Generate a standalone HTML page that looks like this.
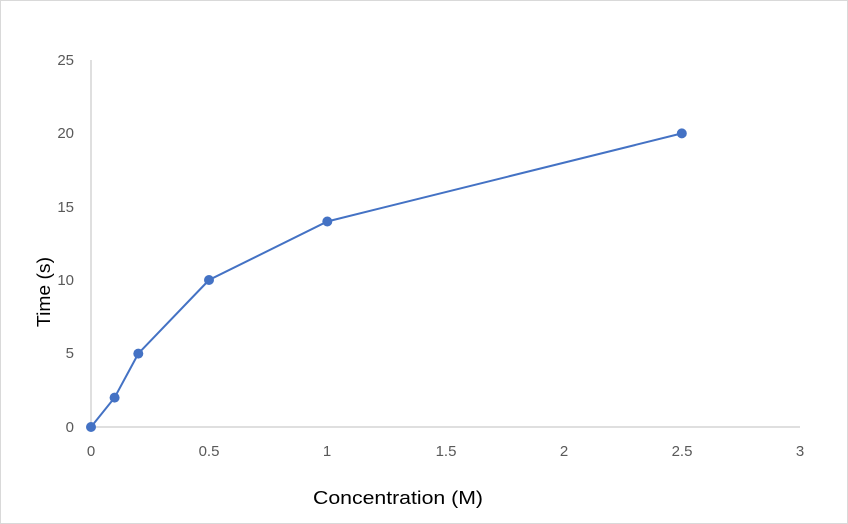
<!DOCTYPE html>
<html><head><style>
body{margin:0;background:#fff}
svg{display:block}
text{font-family:"Liberation Sans",sans-serif}
</style></head><body>
<svg width="848" height="524" viewBox="0 0 848 524" xmlns="http://www.w3.org/2000/svg">
<rect x="0.5" y="0.5" width="847" height="523" fill="#fff" stroke="#d9d9d9"/>
<line x1="91" y1="60" x2="91" y2="427" stroke="#bfbfbf" stroke-width="1"/>
<line x1="91" y1="427" x2="800" y2="427" stroke="#bfbfbf" stroke-width="1"/>
<g fill="#595959" font-size="15" text-anchor="end">
<text x="74" y="432">0</text>
<text x="74" y="358">5</text>
<text x="74" y="285">10</text>
<text x="74" y="212">15</text>
<text x="74" y="138">20</text>
<text x="74" y="65">25</text>
</g>
<g fill="#595959" font-size="15" text-anchor="middle">
<text x="91" y="456">0</text>
<text x="209" y="456">0.5</text>
<text x="327" y="456">1</text>
<text x="446" y="456">1.5</text>
<text x="564" y="456">2</text>
<text x="682" y="456">2.5</text>
<text x="800" y="456">3</text>
</g>
<text x="313" y="504" font-size="18" fill="#000" textLength="170" lengthAdjust="spacingAndGlyphs">Concentration (M)</text>
<text transform="translate(50,327) rotate(-90)" font-size="18" fill="#000" textLength="70" lengthAdjust="spacingAndGlyphs">Time (s)</text>
<polyline fill="none" stroke="#4472c4" stroke-width="2" points="91,427 114.6,397.6 138.3,353.6 209,280 327.3,221.5 681.8,133.4"/>
<g fill="#4472c4">
<circle cx="91" cy="427" r="5"/>
<circle cx="114.6" cy="397.6" r="5"/>
<circle cx="138.3" cy="353.6" r="5"/>
<circle cx="209" cy="280" r="5"/>
<circle cx="327.3" cy="221.5" r="5"/>
<circle cx="681.8" cy="133.4" r="5"/>
</g>
</svg>
</body></html>
